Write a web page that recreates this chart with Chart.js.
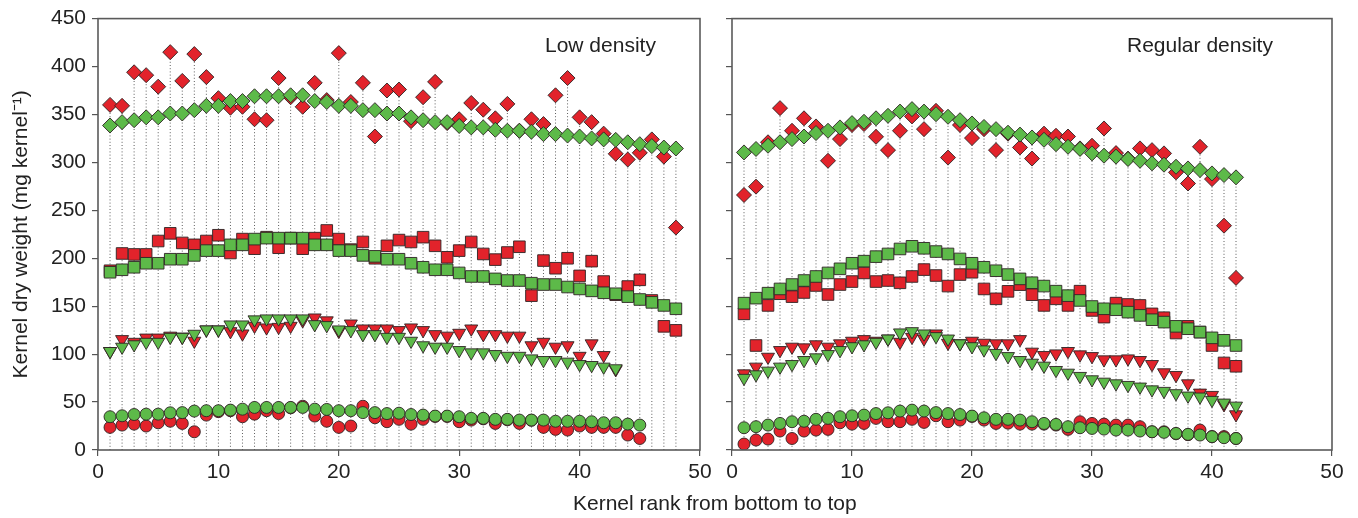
<!DOCTYPE html>
<html><head><meta charset="utf-8">
<script src="https://cdn.jsdelivr.net/npm/chart.js@4.4.0/dist/chart.umd.min.js"></script>
<style>
html,body{margin:0;padding:0;background:#fff;}
body{width:1358px;height:518px;position:relative;overflow:hidden;font-family:"Liberation Sans",Arial,sans-serif;}
#c1{position:absolute;left:0;top:0;width:720px;height:518px;}
#c2{position:absolute;left:706px;top:0;width:652px;height:518px;}
.lbl{position:absolute;font-size:21px;color:#222;white-space:nowrap;line-height:24px;}
</style></head><body>
<canvas id="c1" width="720" height="518"></canvas>
<canvas id="c2" width="652" height="518"></canvas>
<div class="lbl" style="left:545px;top:33px">Low density</div>
<div class="lbl" style="left:1127px;top:33px">Regular density</div>
<div class="lbl" style="left:573px;top:491px">Kernel rank from bottom to top</div>
<script>
// ---------- categories ----------
const ranksLow = [1,2,3,4,5,6,7,8,9,10,11,12,13,14,15,16,17,18,19,20,21,22,23,24,25,26,27,28,29,30,31,32,33,34,35,36,37,38,39,40,41,42,43,44,45,46,47,48];
const ranksReg = [1,2,3,4,5,6,7,8,9,10,11,12,13,14,15,16,17,18,19,20,21,22,23,24,25,26,27,28,29,30,31,32,33,34,35,36,37,38,39,40,41,42];
const xTicks = [0,10,20,30,40,50];
const yTicks = [0,50,100,150,200,250,300,350,400,450];

// ---------- Low density ----------
const lowDiamondRed = [360,359,394,391,379,415,385,413,389,367,357,358,345,344,388,368,358,383,365,414,363,383,327,375,376,343,368,384,341,345,362,355,346,361,333,345,340,370,388,347,342,330,309,303,310,324,306,232];
const lowDiamondGreen = [338.5,342,344,347,347,351,351,354.5,359,359,364,364,369,369,369,370,370,364,363,359,359,354.5,354.5,351,351,347,344,342,342,338,336.5,336.5,334,333,333,332,329.5,329.5,328,327,325,324,323.5,321,319,317,315.5,314.5];
const lowSquareRed = [187,205,204,204,218,226,216,214,218,224,205.5,220,210,222,211,221,210,221,229,220,209,217,200,213,219,217,222,213,201,208,217,204.5,198.6,206,212,161,197.6,189.6,200,181.6,197,175.7,162,170.5,177.5,156,129,124.8];
const lowSquareGreen = [185.4,188,190.6,194.8,194.8,199,199,203,208,208,214,214,220,221,221,221,221,214,214,208,208,203,202,199,199,194.8,190.6,188,188,184.7,181,181,178.5,176.8,176.8,174,172.6,172.6,170,168,166,164,163,160,157,154,150.8,147.3];
const lowTriRed = [103,115.4,112.6,117,117,119,118,113.7,125.5,125.5,123.7,121.3,129.3,127.6,128.2,129.3,135,138,135,124,131.7,126.5,126.5,126.5,124.8,127.6,124.8,120.6,119,122,126.5,120.6,120.6,119,119,109,112.6,107.5,109,98,111,98.8,84];
const lowTriGreen = [103,107.5,110,112.6,112.6,117.8,117.8,121,125.5,125.5,130.7,130.7,136,137,137,137,137,131,130,125.5,124.8,120.6,120.6,117.8,117.8,113.7,109,107.5,107.5,104,101.6,101.6,99.8,98,98,95.3,93.6,93.6,91.9,89.4,88.4,86.7,85];
const lowCircleRed = [23.6,26,27,25,28.4,30,27.7,19,36.4,40,41,34.7,37.4,41,38,44,45.7,35.4,30,23.6,25,45.7,33.6,29.5,32,27,32,35,35,29.5,31.2,32.5,27.7,31.5,27.7,31,23.6,21.5,20.8,25,23.6,23.6,23.6,15.6,12];
const lowCircleGreen = [34.7,35.7,37,37.4,37.4,38.8,39,40.6,41,41,41.6,42.6,44.4,44.4,44.4,44.4,44.4,42.6,42.3,41,41,39,39,38,38.4,37,36.4,35.4,35.4,34.7,33,33,32,32,31.2,31.2,31.2,30,30,30,29.5,28.4,28.4,27,26];

// ---------- Regular density ----------
const regDiamondRed = [266,274.7,321,356.6,333,346,337.5,301.7,324.3,339,340,326.7,312.8,333,348,334.7,353.8,305,339,325.4,334.7,312.8,330,315.6,304,330,327.8,327,314.6,317.4,335.4,309.7,304,314.6,312.8,309.4,289.6,278,316.3,282.6,234,179.5];
const regDiamondGreen = [310.4,314,317.4,321,324.3,327,330.6,333,336.5,341,342.4,346,348.6,353,355.6,353,350.3,347.6,344,340.6,337,334.7,331,329,326,323.6,319,316.3,314,309.4,307,306,303.5,301.7,299,297.6,295.5,293.7,292,288.5,286.8,284.4];
const regSquareRed = [142,109,150.8,163,160,164.3,171.6,162.2,172.6,175.7,184.7,175.7,176.8,174.4,181,188.2,182,171,183,185.4,168,157.7,165.5,172.5,162,150.8,157.7,150.8,165.7,145.6,138.6,153.2,151.8,150.8,142,138,122,129,123,109,90.8,87.3];
const regSquareGreen = [153.2,158.4,163.6,168,172.6,176.8,181,184.7,189,194.8,197,201.7,204.5,209.7,212.5,210.4,207,204.5,199.3,194.8,190.6,187,183,178.5,174.5,171,165.7,161,156,149.7,147.3,146.3,143.8,140.4,135.9,133.4,129,126.5,123,117,114.4,109];
const regTriRed = [79.7,86.7,97,104,107.5,106.8,110,107.5,111,113.7,115.4,113.7,116,112.6,117.8,116,121.3,111.6,111,113.7,111.6,111,111,115.4,102.3,98.8,100.5,103,99.5,97.7,94.3,94.3,95.3,93.6,89.4,80.8,78,69.3,59.6,57.2,47.5,37];
const regTriGreen = [75,78.7,82.5,86.7,89.4,93.6,96.4,99.8,104,108,110,112.6,116,122.4,123.7,121.3,118.5,116,111,108,104.7,101,97.7,93.6,90.8,87.7,83.2,80.4,77,73.5,71,69.3,67.6,65.9,63,61.4,59,56.5,55.5,52,49.2,46];
const regCircleRed = [6.2,10.4,11.4,19.8,12,19.8,20.8,21.5,28.4,27,27.7,33,29.5,29.5,32,28.8,35.7,29.5,31.2,35,31.2,27.7,28,27,27,27,26,21.5,29.5,27.7,27,26,26,24.3,19,19,17,16,20.8,14,14,12];
const regCircleGreen = [23.2,24.3,26,27.7,29.5,30,32,33,34.7,35.7,36.4,38,38.8,40.6,41.6,40.6,39,38,37,35.4,33.6,32,32,31.2,29.5,27.7,26.7,24.3,23.2,22.5,21.8,20.8,20.8,19.8,19,18.4,17.3,16.3,15.6,13.9,12.8,12];

const RED = '#e2232b', GREEN = '#5dba49', EDGE = 'rgba(45,35,35,0.9)';
const FONT = '"Liberation Sans", Arial, sans-serif';

function pts(ranks, vals){ return vals.map((v,i)=>({x:ranks[i], y:v})); }
function stems(ranks, seriesList){
  const out = [];
  ranks.forEach((r,i)=>{
    let m = -Infinity;
    seriesList.forEach(s=>{ if (i < s.length && s[i] > m) m = s[i]; });
    out.push({x:r,y:0},{x:r,y:m},{x:r,y:null});
  });
  return out;
}
function mk(ranks, vals, color, style, radius, rot, order){
  return {data: pts(ranks, vals), backgroundColor: color, borderColor: EDGE, borderWidth: 1,
    pointStyle: style, pointRadius: radius, pointRotation: rot||0, showLine:false, order: order};
}
function datasets(ranks, s){
  return [
    mk(ranks, s.cg, GREEN, 'circle', 6, 0, 0),
    mk(ranks, s.tg, GREEN, 'triangle', 7.5, 180, 0),
    mk(ranks, s.sg, GREEN, 'rect', 8.2, 0, 0),
    mk(ranks, s.dg, GREEN, 'rectRot', 7.5, 0, 0),
    mk(ranks, s.cr, RED, 'circle', 6, 0, 1),
    mk(ranks, s.tr, RED, 'triangle', 7.5, 180, 1),
    mk(ranks, s.sr, RED, 'rect', 8.2, 0, 1),
    mk(ranks, s.dr, RED, 'rectRot', 7.5, 0, 1),
    {type:'line', data: stems(ranks, [s.dr,s.dg,s.sr,s.sg,s.tr,s.tg,s.cr,s.cg]), showLine:true, spanGaps:false,
     borderColor:'#5e5e5e', borderWidth:1, borderDash:[1,2.2], pointRadius:0, fill:false, order: 5}
  ];
}
const framePlugin = {
  id:'frame',
  afterDraw(chart){
    const a = chart.chartArea, ctx = chart.ctx;
    ctx.save(); ctx.strokeStyle='#5a5a5a'; ctx.lineWidth=1.6;
    ctx.strokeRect(a.left, a.top, a.right-a.left, a.bottom-a.top);
    ctx.restore();
  }
};
function options(yWidth, padRight, showY){
  return {
    responsive:false, animation:false, events:[],
    layout:{padding:{left:0, top:17, right:padRight, bottom:0}},
    plugins:{legend:{display:false}, tooltip:{enabled:false}},
    scales:{
      x:{type:'linear', min:0, max:50, afterFit:s=>{s.height=68;},
         afterBuildTicks:s=>{s.ticks = xTicks.map(v=>({value:v}));},
         grid:{drawOnChartArea:false, drawTicks:true, tickLength:6, color:'#555', lineWidth:1.2},
         border:{display:false},
         ticks:{font:{family:FONT,size:21}, color:'#222', padding:4, maxRotation:0}},
      y:{type:'linear', min:0, max:450, afterFit:s=>{s.width=yWidth;},
         afterBuildTicks:s=>{s.ticks = yTicks.map(v=>({value:v}));},
         grid:{drawOnChartArea:false, drawTicks:true, tickLength:6, color:'#555', lineWidth:1.2},
         border:{display:false},
         ticks:{font:{family:FONT,size:21}, color: showY ? '#222' : 'rgba(0,0,0,0)', padding:6},
         title:{display:showY, text:'Kernel dry weight (mg kernel\u207B\u00B9)', font:{family:FONT,size:21}, color:'#222', padding:{top:9,bottom:0}}}
    }
  };
}
new Chart(document.getElementById('c1'), {
  type:'scatter',
  data:{datasets: datasets(ranksLow, {dr:lowDiamondRed, dg:lowDiamondGreen, sr:lowSquareRed, sg:lowSquareGreen, tr:lowTriRed, tg:lowTriGreen, cr:lowCircleRed, cg:lowCircleGreen})},
  options: options(98, 20, true),
  plugins:[framePlugin]
});
new Chart(document.getElementById('c2'), {
  type:'scatter',
  data:{datasets: datasets(ranksReg, {dr:regDiamondRed, dg:regDiamondGreen, sr:regSquareRed, sg:regSquareGreen, tr:regTriRed, tg:regTriGreen, cr:regCircleRed, cg:regCircleGreen})},
  options: options(26, 26, false),
  plugins:[framePlugin]
});
</script>
</body></html>
